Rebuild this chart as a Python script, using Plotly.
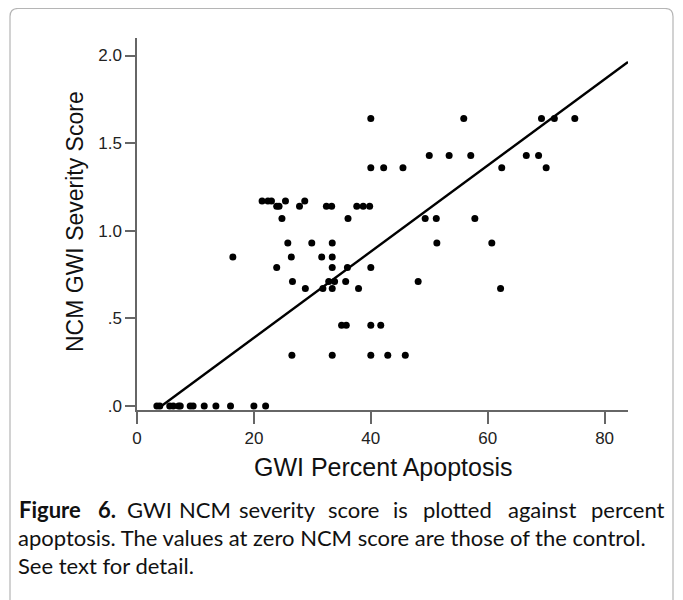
import plotly.graph_objects as go

# ---------------------------------------------------------------------------
# Data
# ---------------------------------------------------------------------------
apoptosis_pct = [
    40.0, 55.9, 69.2, 71.4, 74.9,
    50.0, 53.4, 57.1, 66.6, 68.7,
    40.0, 42.2, 45.5, 62.4, 70.0,
    21.4, 22.4, 23.0, 25.4, 28.7,
    23.9, 24.3, 27.8, 32.4, 33.3, 37.6, 38.7, 39.8,
    24.8, 36.1, 49.3, 51.2, 57.8,
    25.8, 29.9, 33.4, 51.3, 60.7,
    16.4, 26.4, 31.6, 33.4,
    23.9, 33.4, 36.0, 40.0,
    26.6, 32.8, 33.8, 35.7, 48.1,
    28.8, 31.8, 33.4, 37.9, 62.2,
    35.0, 35.8, 40.0, 41.7,
    26.5, 33.4, 40.0, 42.9, 45.9,
    3.4, 3.9, 5.6, 6.2, 7.1, 7.4, 9.1, 9.6, 11.5, 13.5, 16.0, 20.0, 22.0,
]
ncm_score = (
    [1.64] * 5 + [1.43] * 5 + [1.36] * 5 + [1.17] * 5 + [1.14] * 8
    + [1.07] * 5 + [0.93] * 5 + [0.85] * 4 + [0.79] * 4 + [0.71] * 5
    + [0.67] * 5 + [0.46] * 4 + [0.29] * 5 + [0.0] * 13
)

# fit line as drawn in the reference
fit_slope = 0.0246
fit_intercept = -0.103

x_ticks = [0, 20, 40, 60, 80]
y_ticks = [0.0, 0.5, 1.0, 1.5, 2.0]
y_ticktext = [".0", ".5", "1.0", "1.5", "2.0"]

X_RANGE = [0, 84]
Y_RANGE = [-0.023, 2.1]

fit_x = [-fit_intercept / fit_slope, X_RANGE[1]]
fit_y = [fit_slope * v + fit_intercept for v in fit_x]

# ---------------------------------------------------------------------------
# Page geometry. The html body has an 8px margin, so screen = figure + 8.
# ---------------------------------------------------------------------------
OFF = 8
W, H = 683, 600
L, R, T, B = 129, 63, 30, 198
PW, PH = W - L - R, H - T - B


def px(x):
    """screen x pixel -> paper x"""
    return (x - OFF - L) / PW


def py(y):
    """screen y pixel -> paper y"""
    return (H - B - (y - OFF)) / PH


AXIS_FONT = "Liberation Sans, Arial, sans-serif"
CAPTION_FONT = "Lato, Open Sans, sans-serif"

fig = go.Figure()
fig.add_trace(
    go.Scatter(
        x=fit_x, y=fit_y, mode="lines",
        line=dict(color="black", width=2.4),
        hoverinfo="skip", showlegend=False,
    )
)
fig.add_trace(
    go.Scatter(
        x=apoptosis_pct, y=ncm_score, mode="markers",
        marker=dict(color="black", size=7),
        cliponaxis=False, showlegend=False,
    )
)

axis_common = dict(
    showgrid=False, zeroline=False, showline=True,
    linecolor="#666666", linewidth=1.5,
    ticks="outside", tickcolor="#666666", tickwidth=1.5,
    tickfont=dict(family=AXIS_FONT, size=17, color="#222222"),
)
fig.update_xaxes(range=X_RANGE, tickvals=x_ticks, ticklen=12, **axis_common)
fig.update_yaxes(range=Y_RANGE, tickvals=y_ticks, ticktext=y_ticktext,
                 ticklen=10, **axis_common)

# rounded border of the figure box (open at the bottom, like the crop)
bx0, bx1, by0, rad = 10, 673, 8.5, 8
border = (
    f"M {px(bx0)},{py(H + OFF)} L {px(bx0)},{py(by0 + rad)} "
    f"Q {px(bx0)},{py(by0)} {px(bx0 + rad)},{py(by0)} "
    f"L {px(bx1 - rad)},{py(by0)} "
    f"Q {px(bx1)},{py(by0)} {px(bx1)},{py(by0 + rad)} "
    f"L {px(bx1)},{py(H + OFF)}"
)

annotations = [
    dict(x=px(383), y=py(467), text="GWI Percent Apoptosis",
         font=dict(family=AXIS_FONT, size=25, color="#111111")),
    dict(x=px(75), y=py(222), text="NCM GWI Severity Score", textangle=-90,
         font=dict(family=AXIS_FONT, size=23, color="#111111")),
]

# caption: first line is justified between the box edges, so each word is
# set on its own with equal gaps (approximate word widths at this font size)
cap_font = dict(family=CAPTION_FONT, size=22, color="#111111")
cap_left, cap_right = 16, 665
line1_words = ["<b>Figure</b>", "<b>6.</b>", "GWI", "NCM", "severity",
               "score", "is", "plotted", "against", "percent"]
line1_widths = [67, 17, 36, 44, 70, 51, 13, 70, 67, 74]
gap = (cap_right - cap_left - sum(line1_widths)) / (len(line1_words) - 1)
left = cap_left
for word, wid in zip(line1_words, line1_widths):
    annotations.append(dict(x=px(left + wid / 2), y=py(509), text=word,
                            xanchor="center", font=cap_font))
    left += wid + gap
annotations.append(dict(
    x=px(cap_left), y=py(537), xanchor="left", font=cap_font,
    text="apoptosis. The values at zero NCM score are those of the control."))
annotations.append(dict(x=px(cap_left), y=py(565), xanchor="left",
                        font=cap_font, text="See text for detail."))

for a in annotations:
    a.update(xref="paper", yref="paper", showarrow=False)
    a.setdefault("xanchor", "center")
    a.setdefault("yanchor", "middle")

fig.update_layout(
    width=W, height=H,
    margin=dict(l=L, r=R, t=T, b=B),
    paper_bgcolor="white", plot_bgcolor="white",
    annotations=annotations,
    shapes=[dict(type="path", path=border, xref="paper", yref="paper",
                 line=dict(color="#b5b5b5", width=1.2))],
)

fig.write_html("out.html")
